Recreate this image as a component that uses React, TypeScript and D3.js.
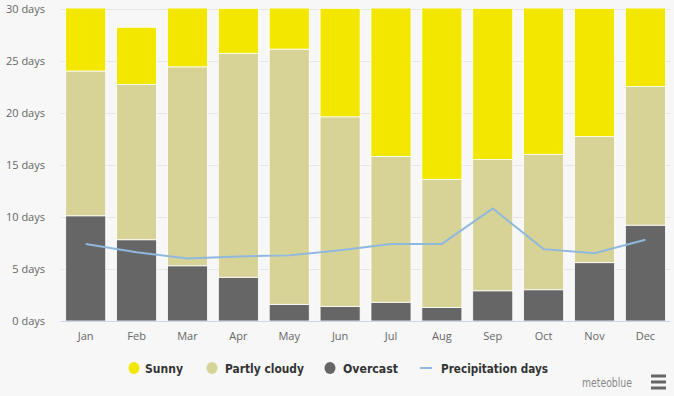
import * as d3 from "d3";
import { useEffect, useRef } from "react";

const months = ["Jan", "Feb", "Mar", "Apr", "May", "Jun", "Jul", "Aug", "Sep", "Oct", "Nov", "Dec"];
const overcast = [10.1, 7.8, 5.3, 4.2, 1.6, 1.4, 1.8, 1.3, 2.9, 3.0, 5.6, 9.2];
const partlyCloudy = [13.9, 14.9, 19.1, 21.5, 24.5, 18.2, 14.0, 12.3, 12.6, 13.0, 12.1, 13.3];
const sunny = [7.0, 5.5, 6.6, 4.3, 4.9, 10.4, 15.2, 17.4, 14.5, 15.0, 12.3, 8.5];
const precipitation = [7.4, 6.6, 6.0, 6.2, 6.3, 6.8, 7.4, 7.4, 10.8, 6.9, 6.5, 7.8];
const yTicks = [0, 5, 10, 15, 20, 25, 30];

const colors = { sunny: "#f3e700", partly: "#d7d396", overcast: "#666666", precip: "#8fb8de" };

const App = () => {
  const ref = useRef<SVGSVGElement>(null);

  useEffect(() => {
    const svg = d3.select(ref.current);
    svg.selectAll("*").remove();
    const width = 674;
    const height = 396;
    const margin = { top: 8.5, right: 3.5, bottom: 75, left: 60.6 };

    svg.attr("width", width).attr("height", height);
    svg.append("rect").attr("width", width).attr("height", height).attr("fill", "#f7f7f7");

    const x = d3
      .scaleBand()
      .domain(months)
      .range([margin.left, width - margin.right])
      .paddingInner(0.213)
      .paddingOuter(0.1);

    const y = d3
      .scaleLinear()
      .domain([0, 30])
      .range([height - margin.bottom, margin.top]);

    // grid lines
    svg
      .append("g")
      .selectAll("line")
      .data(yTicks)
      .enter()
      .append("line")
      .attr("x1", margin.left)
      .attr("x2", width - margin.right)
      .attr("y1", (d) => Math.round(y(d)) + 0.5)
      .attr("y2", (d) => Math.round(y(d)) + 0.5)
      .attr("stroke", (d) => (d === 0 ? "#ccd6eb" : "#e6e6e6"))
      .attr("stroke-width", 1);

    // y labels
    svg
      .append("g")
      .selectAll("text")
      .data(yTicks)
      .enter()
      .append("text")
      .attr("x", 45)
      .attr("y", (d) => y(d) + 4)
      .attr("text-anchor", "end")
      .attr("font-family", "'Open Sans', sans-serif")
      .attr("font-size", 11)
      .attr("fill", "#666")
      .text((d) => `${d} days`);

    // x labels
    svg
      .append("g")
      .selectAll("text")
      .data(months)
      .enter()
      .append("text")
      .attr("x", (d) => x(d)! + x.bandwidth() / 2)
      .attr("y", 340)
      .attr("text-anchor", "middle")
      .attr("font-family", "'Open Sans', sans-serif")
      .attr("font-size", 11)
      .attr("fill", "#666")
      .text((d) => d);

    svg
      .append("clipPath")
      .attr("id", "plot-clip")
      .append("rect")
      .attr("x", margin.left)
      .attr("y", margin.top)
      .attr("width", width - margin.left - margin.right)
      .attr("height", y(0) - margin.top);

    const rows = months.map((m, i) => ({
      month: m,
      overcast: overcast[i],
      partly: partlyCloudy[i],
      sunny: sunny[i],
    }));
    const stack = d3.stack<(typeof rows)[number]>().keys(["overcast", "partly", "sunny"]);
    const series = stack(rows);
    const fillFor: Record<string, string> = {
      overcast: colors.overcast,
      partly: colors.partly,
      sunny: colors.sunny,
    };

    const bars = svg.append("g").attr("clip-path", "url(#plot-clip)");
    series.forEach((s) => {
      bars
        .append("g")
        .selectAll("rect")
        .data(s)
        .enter()
        .append("rect")
        .attr("x", (d) => x(d.data.month)!)
        .attr("width", x.bandwidth())
        .attr("y", (d) => y(d[1]))
        .attr("height", (d) => y(d[0]) - y(d[1]))
        .attr("fill", fillFor[s.key])
        .attr("stroke", "#ffffff")
        .attr("stroke-width", 0.8);
    });

    // precipitation line
    const line = d3
      .line<number>()
      .x((_, i) => x(months[i])! + x.bandwidth() / 2)
      .y((d) => y(d));
    svg
      .append("path")
      .datum(precipitation)
      .attr("d", line)
      .attr("fill", "none")
      .attr("stroke", colors.precip)
      .attr("stroke-width", 2);

    // legend
    const legendFont = "'DejaVu Sans Condensed', sans-serif";
    const legendItems = [
      { label: "Sunny", color: colors.sunny, cx: 134, tx: 145, w: 38, type: "dot" },
      { label: "Partly cloudy", color: colors.partly, cx: 212, tx: 225, w: 79, type: "dot" },
      { label: "Overcast", color: colors.overcast, cx: 330, tx: 343, w: 55, type: "dot" },
      { label: "Precipitation days", color: colors.precip, cx: 426, tx: 441, w: 107, type: "line" },
    ];
    const legend = svg.append("g");
    legendItems.forEach((it) => {
      if (it.type === "dot") {
        legend
          .append("ellipse")
          .attr("cx", it.cx)
          .attr("cy", 368)
          .attr("rx", 5.5)
          .attr("ry", 6)
          .attr("fill", it.color);
      } else {
        legend
          .append("line")
          .attr("x1", it.cx - 6)
          .attr("x2", it.cx + 6)
          .attr("y1", 368)
          .attr("y2", 368)
          .attr("stroke", it.color)
          .attr("stroke-width", 2);
      }
      legend
        .append("text")
        .attr("x", it.tx)
        .attr("y", 372.5)
        .attr("font-family", legendFont)
        .attr("font-size", 12.5)
        .attr("font-weight", "bold")
        .attr("fill", "#333")
        .attr("textLength", it.w)
        .attr("lengthAdjust", "spacingAndGlyphs")
        .text(it.label);
    });

    // credit
    svg
      .append("text")
      .attr("x", 632)
      .attr("y", 387)
      .attr("text-anchor", "end")
      .attr("font-family", legendFont)
      .attr("font-size", 12)
      .attr("fill", "#888")
      .attr("textLength", 50)
      .attr("lengthAdjust", "spacingAndGlyphs")
      .text("meteoblue");
    [376, 382, 388].forEach((yy) => {
      svg
        .append("rect")
        .attr("x", 651)
        .attr("y", yy - 1.5)
        .attr("width", 15)
        .attr("height", 3)
        .attr("fill", "#666");
    });
  }, []);

  return <svg ref={ref} style={{ position: "absolute", left: 0, top: 0, display: "block" }}></svg>;
};

export default App;
